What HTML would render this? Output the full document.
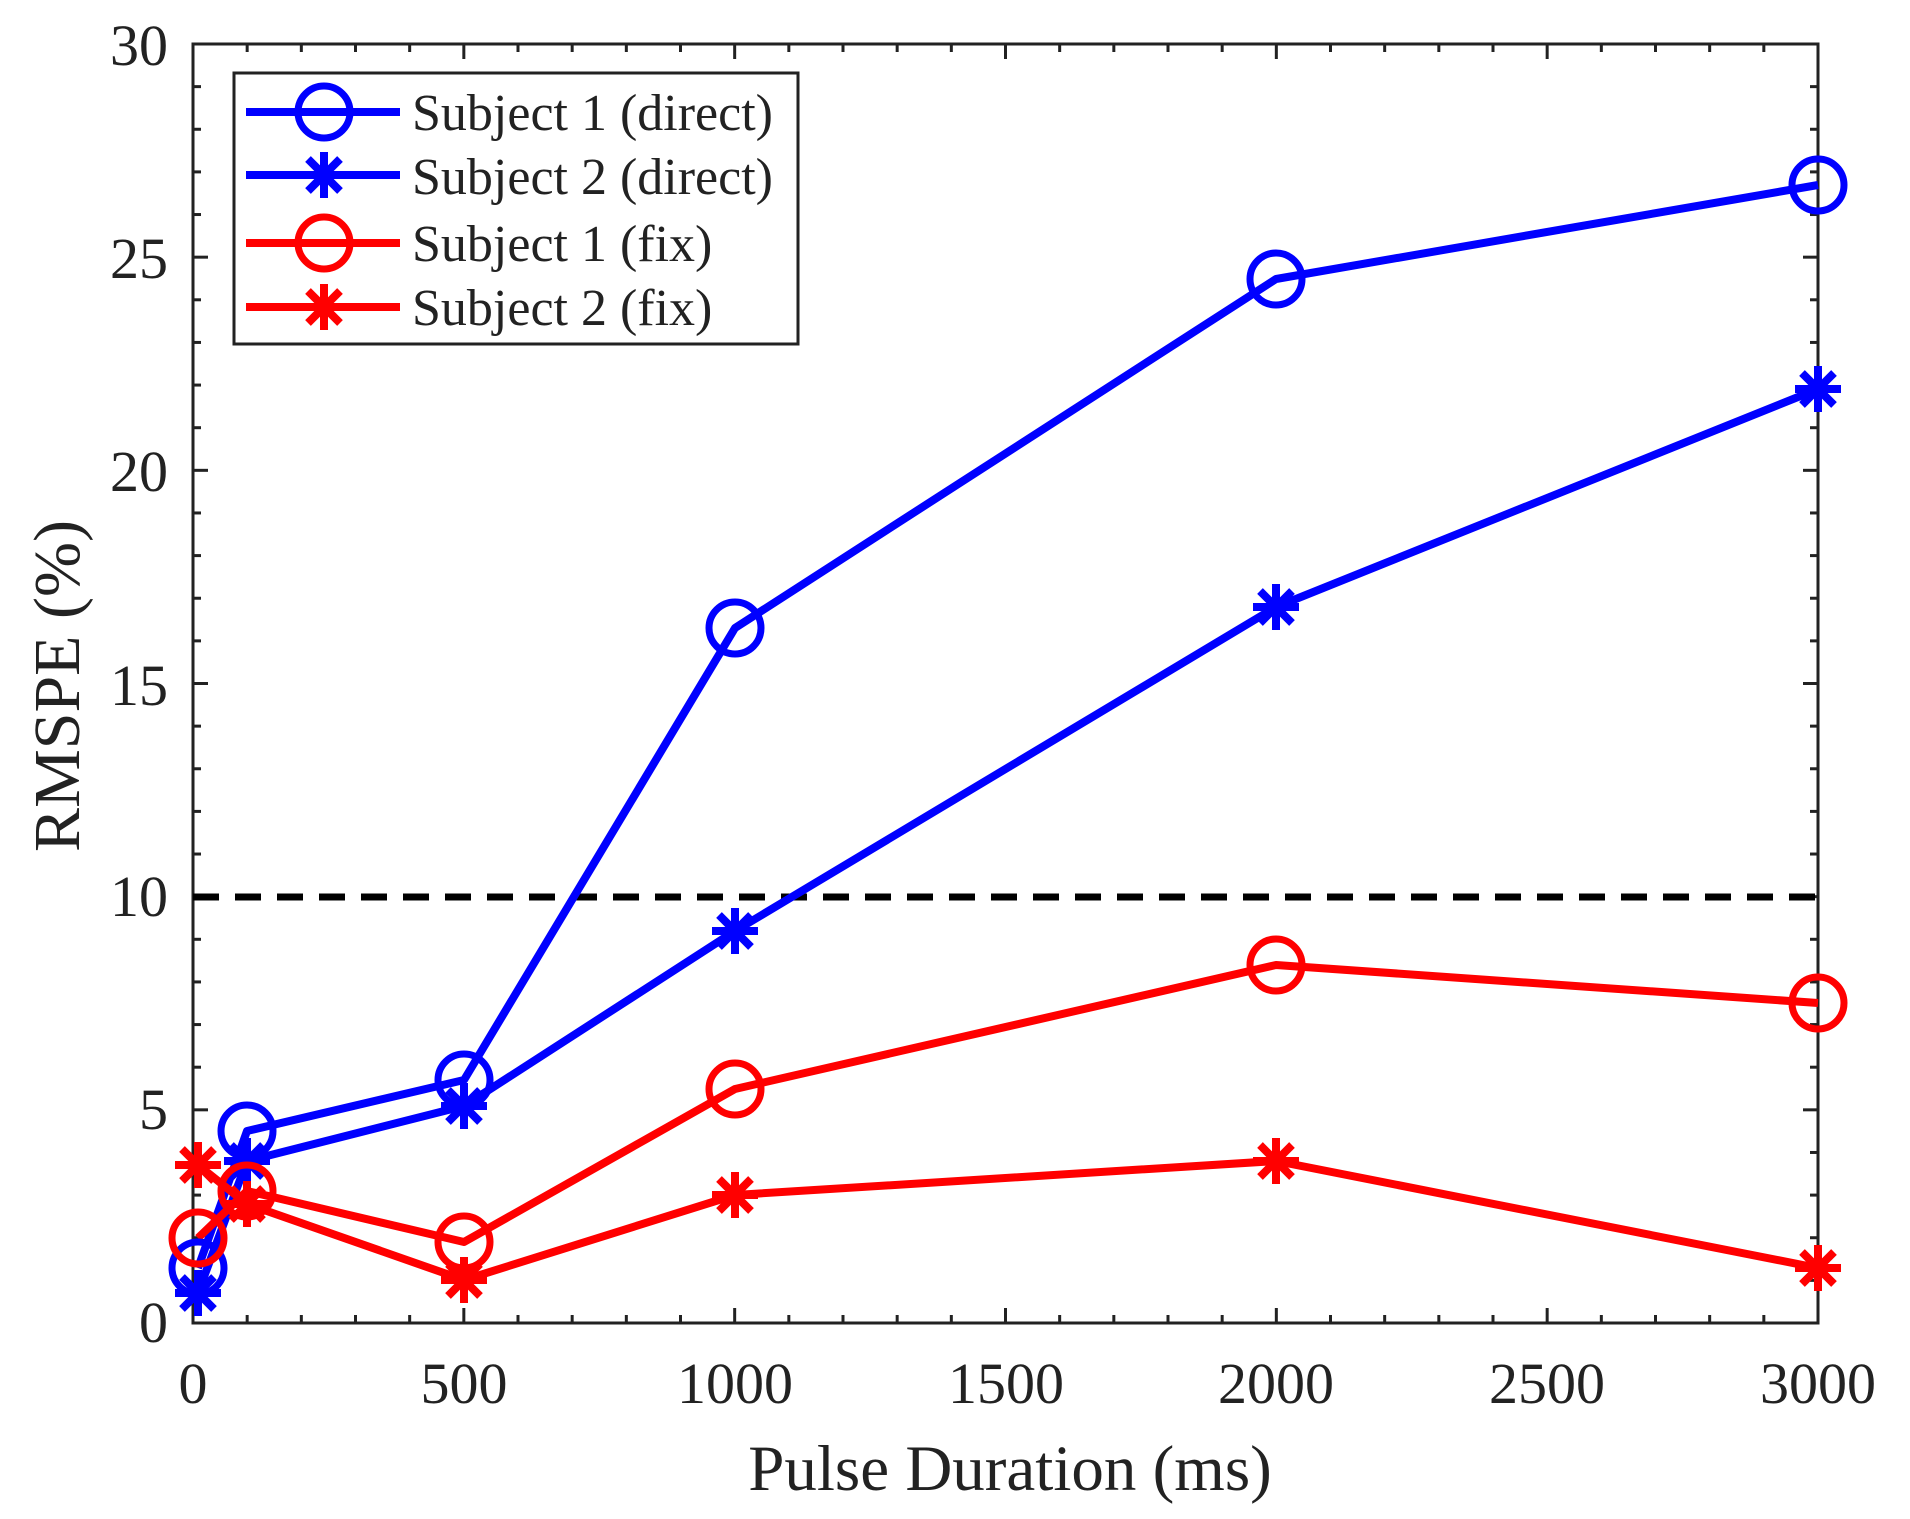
<!DOCTYPE html>
<html><head><meta charset="utf-8"><style>html,body{margin:0;padding:0;background:#fff;}svg{display:block;}</style></head>
<body>
<svg width="1910" height="1519" viewBox="0 0 1910 1519" xmlns="http://www.w3.org/2000/svg" font-family="Liberation Serif, serif">
<defs>
<g id="star"><path d="M0,-23V23M-23,0H23M-16,-16L16,16M-16,16L16,-16" stroke-width="8" fill="none"/></g>
</defs>
<rect width="1910" height="1519" fill="#fff"/>
<g id="ticks" stroke="#222" stroke-width="3"></g>
<script>
(function(){
var L=193,R=1818,T=44,B=1323;
var ns="http://www.w3.org/2000/svg";
var g=document.getElementById('ticks');
function ln(x1,y1,x2,y2){var e=document.createElementNS(ns,'line');e.setAttribute('x1',x1);e.setAttribute('y1',y1);e.setAttribute('x2',x2);e.setAttribute('y2',y2);g.appendChild(e);}
for(var v=0;v<=3000;v+=100){var x=L+v*(R-L)/3000;var len=(v%500==0)?15:8;ln(x,B,x,B-len);ln(x,T,x,T+len);}
for(var u=0;u<=30;u++){var y=B-u*(B-T)/30;var len=(u%5==0)?15:8;ln(L,y,L+len,y);ln(R,y,R-len,y);}
})();
</script>
<rect x="193" y="44" width="1625" height="1279" fill="none" stroke="#222" stroke-width="3"/>
<g font-size="58" fill="#222" text-anchor="middle">
<text x="193" y="1403">0</text><text x="464" y="1403">500</text><text x="735" y="1403">1000</text><text x="1006" y="1403">1500</text><text x="1276" y="1403">2000</text><text x="1547" y="1403">2500</text><text x="1818" y="1403">3000</text>
</g>
<g font-size="58" fill="#222" text-anchor="end">
<text x="168" y="1342">0</text><text x="168" y="1129">5</text><text x="168" y="916">10</text><text x="168" y="705">15</text><text x="168" y="491">20</text><text x="168" y="278">25</text><text x="168" y="65">30</text>
</g>
<text x="1010" y="1490" font-size="65" fill="#222" text-anchor="middle">Pulse Duration (ms)</text>
<text transform="translate(79,686) rotate(-90)" font-size="66" fill="#222" text-anchor="middle">RMSPE (%)</text>
<line x1="193" y1="897" x2="1818" y2="897" stroke="#000" stroke-width="7" stroke-dasharray="26,16"/>
<g fill="none" stroke-width="8" stroke-linejoin="round">
<polyline stroke="#0000ff" points="198,1268 247,1131 464,1080 735,628 1276,279 1818,185"/>
<polyline stroke="#0000ff" points="198,1293 247,1161 464,1106 735,931 1276,607 1818,389"/>
<polyline stroke="#ff0000" points="198,1238 247,1191 464,1242 735,1089 1276,965 1818,1003"/>
<polyline stroke="#ff0000" points="198,1165 247,1204 464,1280 735,1195 1276,1161 1818,1268"/>
</g>
<g fill="none" stroke="#0000ff" stroke-width="7">
<circle cx="198" cy="1268" r="26"/><circle cx="247" cy="1131" r="26"/><circle cx="464" cy="1080" r="26"/><circle cx="735" cy="628" r="26"/><circle cx="1276" cy="279" r="26"/><circle cx="1818" cy="185" r="26"/>
</g>
<g stroke="#0000ff">
<use href="#star" x="198" y="1293"/><use href="#star" x="247" y="1161"/><use href="#star" x="464" y="1106"/><use href="#star" x="735" y="931"/><use href="#star" x="1276" y="607"/><use href="#star" x="1818" y="389"/>
</g>
<g fill="none" stroke="#ff0000" stroke-width="7">
<circle cx="198" cy="1238" r="26"/><circle cx="247" cy="1191" r="26"/><circle cx="464" cy="1242" r="26"/><circle cx="735" cy="1089" r="26"/><circle cx="1276" cy="965" r="26"/><circle cx="1818" cy="1003" r="26"/>
</g>
<g stroke="#ff0000">
<use href="#star" x="198" y="1165"/><use href="#star" x="247" y="1204"/><use href="#star" x="464" y="1280"/><use href="#star" x="735" y="1195"/><use href="#star" x="1276" y="1161"/><use href="#star" x="1818" y="1268"/>
</g>
<rect x="234" y="73" width="564" height="271" fill="#fff" stroke="#222" stroke-width="3"/>
<g stroke-width="8" fill="none">
<line x1="246" y1="112" x2="400" y2="112" stroke="#0000ff"/><circle cx="324" cy="112" r="26" stroke="#0000ff" stroke-width="7"/>
<line x1="246" y1="175" x2="400" y2="175" stroke="#0000ff"/>
<line x1="246" y1="243" x2="400" y2="243" stroke="#ff0000"/><circle cx="324" cy="243" r="26" stroke="#ff0000" stroke-width="7"/>
<line x1="246" y1="307" x2="400" y2="307" stroke="#ff0000"/>
</g>
<use href="#star" x="324" y="175" stroke="#0000ff"/>
<use href="#star" x="324" y="307" stroke="#ff0000"/>
<g font-size="52" fill="#222">
<text x="412" y="130">Subject 1 (direct)</text>
<text x="412" y="194">Subject 2 (direct)</text>
<text x="412" y="261">Subject 1 (fix)</text>
<text x="412" y="325">Subject 2 (fix)</text>
</g>
</svg>
</body></html>
